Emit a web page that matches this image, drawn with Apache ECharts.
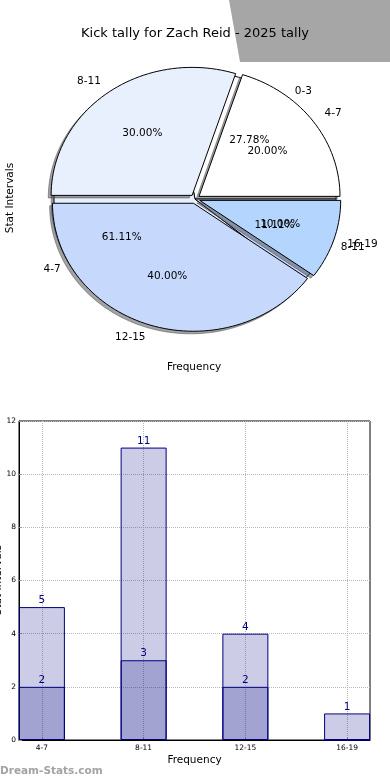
<!DOCTYPE html>
<html><head><meta charset="utf-8">
<script src="https://cdn.jsdelivr.net/npm/echarts@6/dist/echarts.min.js"></script>
<style>html,body{margin:0;padding:0;background:#fff}#c{width:390px;height:780px}</style>
</head><body><div id="c"></div>
<script>
// ---- data ----
const titleText = 'Kick tally for Zach Reid - 2025 tally';
const pieACategories = ['0-3', '4-7', '8-11'];
const pieAValues = [5, 11, 2];
const pieBCategories = ['4-7', '8-11', '12-15', '16-19'];
const pieBValues = [2, 3, 4, 1];
const pieColors = ['#ffffff', '#e9f0fd', '#c6d9fd', '#b4d6fe'];
const barCategories = ['4-7', '8-11', '12-15', '16-19'];
const barTotals = [5, 11, 4, 1];
const barSub = [2, 3, 2, 0];
const yTickValues = [0, 2, 4, 6, 8, 10, 12];

const FONT = '"DejaVu Sans", sans-serif';

function wedges(values, explode) {
  const total = values.reduce((a, b) => a + b, 0);
  let a = 0;
  return values.map((v) => {
    const s = a, e = a + 360 * v / total; a = e;
    const m = (s + e) / 2 * Math.PI / 180;
    return { s, e, m, cx: explode * Math.cos(m), cy: explode * Math.sin(m), frac: v / total };
  });
}
const wA = wedges(pieAValues, 0);
const wB = wedges(pieBValues, 0.035);

function wedgePoints(w, api, dx, dy) {
  const pts = [api.coord([w.cx + dx, w.cy + dy])];
  const n = Math.max(2, Math.ceil((w.e - w.s) / 2));
  for (let k = 0; k <= n; k++) {
    const t = (w.s + (w.e - w.s) * k / n) * Math.PI / 180;
    pts.push(api.coord([w.cx + dx + Math.cos(t), w.cy + dy + Math.sin(t)]));
  }
  return pts;
}
function pieSeries(ws, shadow, z) {
  return {
    type: 'custom', xAxisIndex: 0, yAxisIndex: 0, z: z, silent: true, clip: false,
    data: ws.map(w => [w.cx, w.cy]),
    renderItem: function (params, api) {
      const w = ws[params.dataIndex];
      if (shadow) {
        return { type: 'polygon', shape: { points: wedgePoints(w, api, -0.02, -0.02) },
          style: { fill: 'rgba(70,72,76,0.5)', stroke: 'rgba(70,72,76,0.5)', lineWidth: 1 } };
      }
      return { type: 'polygon', shape: { points: wedgePoints(w, api, 0, 0) },
        style: { fill: pieColors[params.dataIndex % pieColors.length], stroke: '#000', lineWidth: 1 } };
    }
  };
}
const labelItems = [];
[[wA, pieACategories], [wB, pieBCategories]].forEach(([ws, cats]) => {
  ws.forEach((w, i) => {
    const c = Math.cos(w.m), s = Math.sin(w.m);
    labelItems.push({ x: w.cx + 1.1 * c, y: w.cy + 1.1 * s, text: cats[i], align: c > 0 ? 'left' : 'right' });
    labelItems.push({ x: w.cx + 0.6 * c, y: w.cy + 0.6 * s, text: (w.frac * 100).toFixed(2) + '%', align: 'center' });
  });
});

const option = {
  animation: false,
  backgroundColor: '#ffffff',
  title: { text: titleText, left: 'center', top: 22, textStyle: { fontFamily: FONT, fontSize: 13, fontWeight: 'normal', color: '#000' } },
  graphic: [
    { type: 'polygon', z: 0, shape: { points: [[229, 0], [390, 0], [390, 62], [240, 62]] }, style: { fill: '#a6a6a6' } },
    { type: 'text', x: 10, y: 198, rotation: Math.PI / 2, style: { text: 'Stat Intervals', fontFamily: FONT, fontSize: 10.5, fill: '#000', align: 'center', verticalAlign: 'middle' } },
    { type: 'text', x: 194, y: 367, style: { text: 'Frequency', fontFamily: FONT, fontSize: 10.5, fill: '#000', align: 'center', verticalAlign: 'middle' } },
    { type: 'text', x: -1.5, y: 580, rotation: Math.PI / 2, style: { text: 'Stat Intervals', fontFamily: FONT, fontSize: 10.5, fill: '#000', align: 'center', verticalAlign: 'middle' } },
    { type: 'text', x: 0, y: 771, style: { text: 'Dream-Stats.com', fontFamily: FONT, fontSize: 10.5, fontWeight: 'bold', fill: '#a3a3a3', align: 'left', verticalAlign: 'middle' } }
  ],
  grid: [
    { left: 11.7, right: 11.7, top: 45.4, bottom: 427.4, containLabel: false, outerBoundsMode: 'none' },
    { left: 19, right: 20, top: 421, bottom: 40, show: true, borderColor: '#000', borderWidth: 1, backgroundColor: 'transparent', containLabel: false, outerBoundsMode: 'none' }
  ],
  xAxis: [
    { gridIndex: 0, type: 'value', min: -1.3, max: 1.3, show: false },
    { gridIndex: 1, type: 'value', min: -0.225, max: 3.225,
      name: 'Frequency', nameLocation: 'middle', nameGap: 15,
      nameTextStyle: { fontFamily: FONT, fontSize: 10.5, color: '#000' },
      axisLine: { show: true, onZero: false, lineStyle: { color: '#000' } },
      axisTick: { show: true, inside: true, length: 3, customValues: [0, 1, 2, 3], lineStyle: { color: '#999' } },
      axisLabel: { customValues: [0, 1, 2, 3], formatter: v => barCategories[Math.round(v)] || '', fontFamily: FONT, fontSize: 7.5, color: '#000', margin: 4 },
      splitLine: { show: true, lineStyle: { color: '#b8b8b8', type: 'dotted', width: 1 } } }
  ],
  yAxis: [
    { gridIndex: 0, type: 'value', min: -1.2, max: 1.2, show: false },
    { gridIndex: 1, type: 'value', min: 0, max: 12, interval: 2,
      axisLine: { show: true, onZero: false, lineStyle: { color: '#000' } },
      axisTick: { show: true, inside: true, length: 3, lineStyle: { color: '#999' } },
      axisLabel: { formatter: v => yTickValues.includes(v) ? String(v) : '', fontFamily: FONT, fontSize: 7.5, color: '#000', margin: 3 },
      splitLine: { show: true, lineStyle: { color: '#b8b8b8', type: 'dotted', width: 1 } } }
  ],
  series: [
    pieSeries(wA, true, 1),
    pieSeries(wA, false, 2),
    pieSeries(wB, true, 3),
    pieSeries(wB, false, 4),
    {
      type: 'custom', xAxisIndex: 0, yAxisIndex: 0, z: 6, silent: true, clip: false,
      data: labelItems.map(l => [l.x, l.y]),
      renderItem: function (params, api) {
        const l = labelItems[params.dataIndex];
        const p = api.coord([l.x, l.y]);
        return { type: 'text', x: p[0], y: p[1],
          style: { text: l.text, fontFamily: FONT, fontSize: 10.5, fill: '#000', align: l.align, verticalAlign: 'middle' } };
      }
    },
    {
      type: 'bar', xAxisIndex: 1, yAxisIndex: 1, barWidth: 46, barGap: '-100%', z: 2,
      data: barTotals.map((v, i) => [i, v]),
      itemStyle: { color: 'rgba(0,0,128,0.2)', borderColor: '#000080', borderWidth: 1 },
      label: { show: true, position: 'top', distance: 1, color: '#000080', fontFamily: FONT, fontSize: 10.5,
        formatter: p => p.value[1] ? String(p.value[1]) : '' }
    },
    {
      type: 'bar', xAxisIndex: 1, yAxisIndex: 1, barWidth: 46, barGap: '-100%', z: 3,
      data: barSub.map((v, i) => [i, v]),
      itemStyle: { color: 'rgba(0,0,128,0.2)', borderColor: '#000080', borderWidth: 1 },
      label: { show: true, position: 'top', distance: 1, color: '#000080', fontFamily: FONT, fontSize: 10.5,
        formatter: p => p.value[1] ? String(p.value[1]) : '' }
    }
  ]
};
const chart = echarts.init(document.getElementById('c'), null, { renderer: 'canvas' });
chart.setOption(option);
</script></body></html>
